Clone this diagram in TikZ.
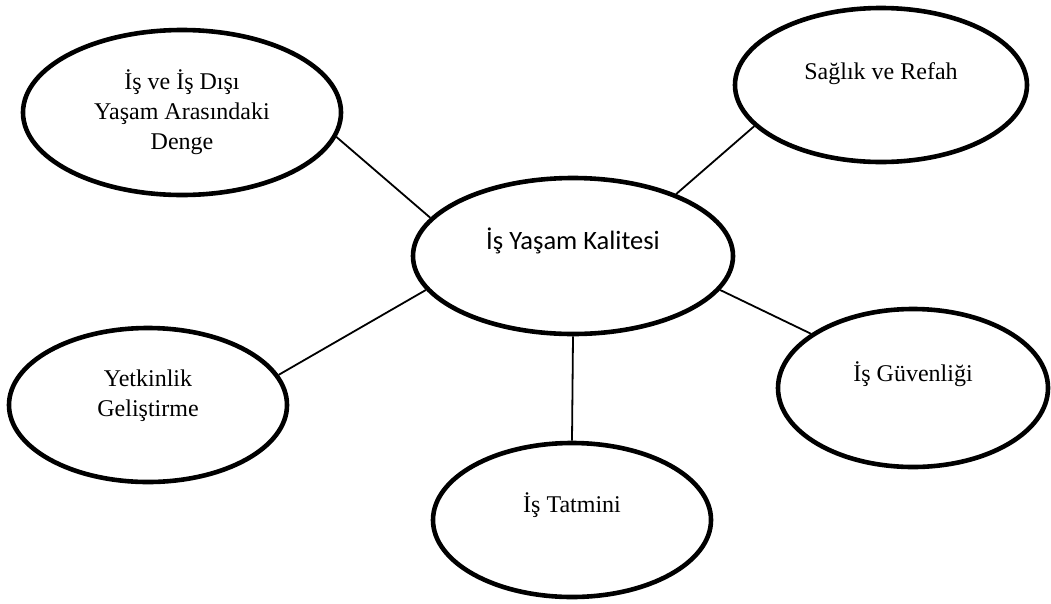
\documentclass[tikz,border=0pt]{standalone}
\usepackage{fontspec}
\setmainfont{Liberation Serif}
\newfontfamily\bodysans{Carlito}
\usepackage{tikz}
\usetikzlibrary{shapes.geometric,positioning}

\begin{document}
\begin{tikzpicture}[
    x=1pt, y=-1pt,
    topic/.style={draw=black, line width=4.6pt, ellipse, inner sep=0pt},
    caption/.style={align=center, font=\fontsize{24}{30}\selectfont},
    link/.style={line width=1.8pt, black}
  ]
    \useasboundingbox (0,0) rectangle (1051,603);
    % ellipses
    \node[topic, minimum width=320pt, minimum height=156pt] (core) at (573,256) {};
    \node[topic, minimum width=318pt, minimum height=165pt] (balance) at (182,112.5) {};
    \node[topic, minimum width=292pt, minimum height=154pt] (health) at (881,85) {};
    \node[topic, minimum width=278pt, minimum height=154pt] (skills) at (148,405) {};
    \node[topic, minimum width=270pt, minimum height=158pt] (security) at (913,388) {};
    \node[topic, minimum width=278pt, minimum height=154pt] (satisfaction) at (572,520) {};
    % texts
    \node[caption, font=\bodysans\fontsize{26.5}{30}\selectfont] (core-t) at ([yshift=15pt]core.center) {İş Yaşam Kalitesi};
    \node[caption] (balance-t) at (balance.center) {İş ve İş Dışı\\Yaşam Arasındaki\\Denge};
    \node[caption] (health-t) at ([yshift=11pt]health.center) {Sağlık ve Refah};
    \node[caption] (skills-t) at ([yshift=9pt]skills.center) {Yetkinlik\\Geliştirme};
    \node[caption] (security-t) at ([yshift=14pt]security.center) {İş Güvenliği};
    \node[caption] (satisfaction-t) at ([yshift=15pt]satisfaction.center) {İş Tatmini};
    % connectors
    \draw[link] (balance.-9) -- (core.165);
    \draw[link] (health.198) -- (core.31);
    \draw[link] (core.-13.5) -- (security.152.6);
    \draw[link] (core.193.8) -- (skills.13.8);
    \draw[link] (core.south) -- (satisfaction.north);
  \end{tikzpicture}
\end{document}
